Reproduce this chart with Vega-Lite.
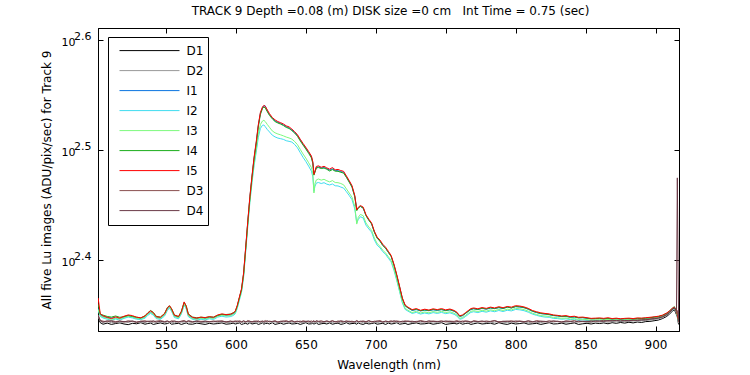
{
"$schema": "https://vega.github.io/schema/vega-lite/v6.json",
"width": 581, "height": 303,
"autosize": {"type": "none"},
"padding": {"left": 98, "top": 28, "right": 71, "bottom": 44},
"background": "white",
"config": {
  "view": {"stroke": "black", "strokeWidth": 1},
  "font": "DejaVu Sans",
  "axis": {"grid": false, "domainColor": "black", "tickColor": "black", "labelColor": "black", "titleColor": "black", "titleFontWeight": "normal", "titleFontSize": 12, "labelFontSize": 12, "labelFont": "DejaVu Sans", "titleFont": "DejaVu Sans", "tickSize": -5, "labelFlush": false, "labelOverlap": false}
},
"title": {"text": "TRACK 9 Depth =0.08 (m) DISK size =0 cm\u00a0\u00a0\u00a0Int Time = 0.75 (sec)", "fontSize": 12, "fontWeight": "normal", "font": "DejaVu Sans", "color": "black", "offset": 10, "dx": 2},
"data": {"values": [
{"w":501.5,"D1":222.5,"D2":223.0,"I1":227.0,"I2":226.0,"I3":226.5,"I4":229.0,"I5":232.0,"D3":224.0,"D4":223.5},
{"w":503,"D1":220.3,"D2":221.0,"I1":224.0,"I2":223.2,"I3":223.6,"I4":224.3,"I5":224.5,"D3":221.4,"D4":221.2},
{"w":505,"D1":219.6,"D2":220.4,"I1":223.1,"I2":222.5,"I3":222.9,"I4":223.8,"I5":223.5,"D3":221.0,"D4":220.6},
{"w":508,"D1":220.1,"D2":220.8,"I1":222.6,"I2":221.9,"I3":222.3,"I4":223.2,"I5":222.8,"D3":220.7,"D4":221.2},
{"w":511,"D1":219.5,"D2":220.3,"I1":222.5,"I2":221.4,"I3":221.8,"I4":222.9,"I5":222.2,"D3":221.3,"D4":220.9},
{"w":514,"D1":219.9,"D2":220.6,"I1":222.5,"I2":222.0,"I3":222.4,"I4":223.4,"I5":223.0,"D3":220.8,"D4":220.5},
{"w":517,"D1":220.2,"D2":220.2,"I1":222.1,"I2":221.5,"I3":222.0,"I4":222.8,"I5":222.4,"D3":221.1,"D4":221.0},
{"w":520,"D1":219.7,"D2":220.7,"I1":222.8,"I2":222.3,"I3":222.7,"I4":223.1,"I5":223.3,"D3":220.6,"D4":220.8},
{"w":523,"D1":219.4,"D2":220.5,"I1":223.4,"I2":222.9,"I3":223.3,"I4":223.7,"I5":223.9,"D3":221.2,"D4":220.7},
{"w":526,"D1":220.0,"D2":220.9,"I1":223.0,"I2":222.5,"I3":223.0,"I4":223.2,"I5":223.6,"D3":220.9,"D4":221.1},
{"w":529,"D1":219.8,"D2":220.3,"I1":222.4,"I2":221.9,"I3":222.3,"I4":222.9,"I5":222.8,"D3":220.5,"D4":220.6},
{"w":532,"D1":220.3,"D2":220.6,"I1":222.2,"I2":221.7,"I3":222.0,"I4":222.5,"I5":222.6,"D3":221.0,"D4":220.9},
{"w":535,"D1":219.6,"D2":220.4,"I1":223.0,"I2":222.4,"I3":222.9,"I4":223.5,"I5":223.4,"D3":221.2,"D4":220.7},
{"w":537,"D1":219.9,"D2":220.8,"I1":224.3,"I2":223.7,"I3":224.2,"I4":224.9,"I5":224.8,"D3":220.8,"D4":221.0},
{"w":539,"D1":220.1,"D2":220.2,"I1":225.2,"I2":224.6,"I3":225.1,"I4":226.0,"I5":225.8,"D3":221.1,"D4":220.8},
{"w":541,"D1":219.5,"D2":220.6,"I1":224.4,"I2":223.8,"I3":224.3,"I4":225.1,"I5":224.9,"D3":220.7,"D4":221.2},
{"w":543,"D1":219.8,"D2":220.5,"I1":222.8,"I2":222.2,"I3":222.6,"I4":223.3,"I5":223.1,"D3":221.0,"D4":220.6},
{"w":546,"D1":220.2,"D2":220.9,"I1":222.4,"I2":221.8,"I3":222.3,"I4":222.9,"I5":222.8,"D3":221.3,"D4":220.9},
{"w":549,"D1":219.7,"D2":220.3,"I1":224.0,"I2":223.4,"I3":223.9,"I4":224.6,"I5":224.5,"D3":220.8,"D4":220.7},
{"w":551,"D1":219.9,"D2":220.7,"I1":226.7,"I2":226.0,"I3":226.6,"I4":227.4,"I5":227.2,"D3":221.1,"D4":221.0},
{"w":552.5,"D1":220.3,"D2":220.4,"I1":227.8,"I2":227.1,"I3":227.6,"I4":228.2,"I5":228.3,"D3":220.6,"D4":220.8},
{"w":554,"D1":219.6,"D2":220.6,"I1":226.3,"I2":225.6,"I3":226.1,"I4":226.9,"I5":226.8,"D3":221.2,"D4":220.7},
{"w":556,"D1":219.8,"D2":220.2,"I1":223.3,"I2":222.7,"I3":223.2,"I4":223.9,"I5":223.8,"D3":220.9,"D4":221.1},
{"w":559,"D1":220.0,"D2":220.8,"I1":222.8,"I2":222.1,"I3":222.6,"I4":223.1,"I5":223.2,"D3":220.7,"D4":220.6},
{"w":561,"D1":219.5,"D2":220.5,"I1":225.0,"I2":224.3,"I3":224.8,"I4":225.6,"I5":225.5,"D3":221.0,"D4":220.9},
{"w":563,"D1":219.9,"D2":220.6,"I1":229.5,"I2":228.6,"I3":229.2,"I4":229.9,"I5":230.1,"D3":221.3,"D4":221.0},
{"w":564.5,"D1":220.2,"D2":220.3,"I1":227.5,"I2":226.7,"I3":227.2,"I4":228.2,"I5":228.0,"D3":220.8,"D4":220.7},
{"w":566,"D1":219.7,"D2":220.7,"I1":223.8,"I2":223.1,"I3":223.5,"I4":224.4,"I5":224.2,"D3":221.0,"D4":221.2},
{"w":569,"D1":219.6,"D2":220.4,"I1":222.4,"I2":221.8,"I3":222.2,"I4":222.9,"I5":222.8,"D3":220.6,"D4":220.8},
{"w":572,"D1":220.1,"D2":220.8,"I1":222.1,"I2":221.5,"I3":221.9,"I4":222.6,"I5":222.4,"D3":221.2,"D4":220.9},
{"w":575,"D1":219.8,"D2":220.5,"I1":222.5,"I2":221.9,"I3":222.4,"I4":222.8,"I5":222.9,"D3":220.9,"D4":220.6},
{"w":578,"D1":219.5,"D2":220.3,"I1":222.2,"I2":221.6,"I3":222.0,"I4":222.7,"I5":222.6,"D3":221.0,"D4":221.0},
{"w":581,"D1":220.0,"D2":220.6,"I1":222.7,"I2":222.1,"I3":222.5,"I4":223.0,"I5":223.1,"D3":220.7,"D4":220.8},
{"w":584,"D1":219.7,"D2":220.9,"I1":222.5,"I2":221.8,"I3":222.3,"I4":222.9,"I5":222.8,"D3":221.1,"D4":220.7},
{"w":587,"D1":219.9,"D2":220.4,"I1":223.5,"I2":222.9,"I3":223.3,"I4":223.7,"I5":223.9,"D3":220.8,"D4":221.1},
{"w":590,"D1":220.2,"D2":220.7,"I1":224.0,"I2":223.3,"I3":223.8,"I4":224.2,"I5":224.4,"D3":221.2,"D4":220.9},
{"w":593,"D1":219.6,"D2":220.5,"I1":223.6,"I2":222.9,"I3":223.4,"I4":224.1,"I5":224.0,"D3":220.6,"D4":220.7},
{"w":596,"D1":219.8,"D2":220.3,"I1":223.8,"I2":223.1,"I3":223.6,"I4":224.3,"I5":224.2,"D3":221.0,"D4":221.0},
{"w":598,"D1":220.1,"D2":220.8,"I1":224.4,"I2":223.6,"I3":224.1,"I4":224.9,"I5":224.8,"D3":220.9,"D4":220.6},
{"w":599.5,"D1":219.7,"D2":220.6,"I1":225.2,"I2":224.4,"I3":224.9,"I4":225.5,"I5":225.6,"D3":221.1,"D4":220.9},
{"w":601,"D1":219.9,"D2":220.4,"I1":228.0,"I2":227.0,"I3":227.6,"I4":228.2,"I5":228.5,"D3":220.7,"D4":221.1},
{"w":602.5,"D1":220.2,"D2":220.8,"I1":232.0,"I2":230.9,"I3":231.5,"I4":232.1,"I5":232.5,"D3":221.2,"D4":220.8},
{"w":604,"D1":219.5,"D2":220.5,"I1":236.1,"I2":234.7,"I3":235.3,"I4":236.0,"I5":236.5,"D3":220.8,"D4":220.6},
{"w":605.5,"D1":219.8,"D2":220.2,"I1":244.0,"I2":242.3,"I3":243.0,"I4":243.8,"I5":244.5,"D3":221.0,"D4":221.2},
{"w":607,"D1":220.0,"D2":220.7,"I1":257.5,"I2":255.5,"I3":256.3,"I4":257.2,"I5":258.0,"D3":220.6,"D4":220.7},
{"w":608.5,"D1":219.6,"D2":220.6,"I1":272.0,"I2":269.5,"I3":270.4,"I4":271.6,"I5":272.5,"D3":221.3,"D4":220.9},
{"w":610,"D1":220.3,"D2":220.3,"I1":286.4,"I2":283.5,"I3":284.6,"I4":286.0,"I5":287.0,"D3":220.9,"D4":221.0},
{"w":611.5,"D1":219.7,"D2":220.9,"I1":298.9,"I2":295.3,"I3":296.6,"I4":298.4,"I5":299.5,"D3":220.7,"D4":220.6},
{"w":613,"D1":219.9,"D2":220.5,"I1":310.8,"I2":305.9,"I3":307.6,"I4":310.3,"I5":311.5,"D3":221.1,"D4":220.8},
{"w":614.5,"D1":220.1,"D2":220.2,"I1":320.8,"I2":314.7,"I3":316.6,"I4":320.2,"I5":321.5,"D3":220.8,"D4":221.1},
{"w":616,"D1":219.5,"D2":220.7,"I1":332.6,"I2":324.5,"I3":326.8,"I4":331.8,"I5":333.3,"D3":221.2,"D4":220.7},
{"w":617.5,"D1":219.8,"D2":220.4,"I1":341.4,"I2":330.8,"I3":333.5,"I4":340.6,"I5":342.0,"D3":220.6,"D4":220.9},
{"w":619,"D1":220.2,"D2":220.8,"I1":345.5,"I2":333.0,"I3":336.0,"I4":344.9,"I5":346.0,"D3":221.0,"D4":221.0},
{"w":620,"D1":219.6,"D2":220.5,"I1":346.8,"I2":333.2,"I3":336.5,"I4":346.0,"I5":347.2,"D3":220.9,"D4":220.6},
{"w":621,"D1":219.9,"D2":220.3,"I1":346.8,"I2":332.0,"I3":335.6,"I4":345.2,"I5":346.5,"D3":221.3,"D4":220.8},
{"w":622.5,"D1":220.0,"D2":220.6,"I1":343.0,"I2":330.0,"I3":333.5,"I4":342.5,"I5":343.8,"D3":220.7,"D4":221.2},
{"w":624,"D1":219.7,"D2":220.9,"I1":340.5,"I2":328.4,"I3":331.6,"I4":340.0,"I5":341.2,"D3":221.0,"D4":220.7},
{"w":626,"D1":220.3,"D2":220.4,"I1":338.0,"I2":326.2,"I3":329.1,"I4":337.5,"I5":338.5,"D3":220.8,"D4":220.9},
{"w":628,"D1":219.5,"D2":220.7,"I1":336.0,"I2":325.0,"I3":327.8,"I4":335.6,"I5":336.8,"D3":221.2,"D4":221.0},
{"w":630,"D1":219.8,"D2":220.2,"I1":335.0,"I2":324.2,"I3":327.0,"I4":334.6,"I5":335.6,"D3":220.6,"D4":220.6},
{"w":632,"D1":220.1,"D2":220.6,"I1":334.3,"I2":323.8,"I3":326.4,"I4":333.8,"I5":334.8,"D3":221.0,"D4":220.8},
{"w":634,"D1":219.6,"D2":220.5,"I1":333.2,"I2":323.3,"I3":325.7,"I4":332.8,"I5":333.9,"D3":220.9,"D4":221.1},
{"w":636,"D1":219.9,"D2":220.8,"I1":332.1,"I2":322.4,"I3":324.9,"I4":331.5,"I5":332.6,"D3":221.3,"D4":220.7},
{"w":638,"D1":220.2,"D2":220.3,"I1":331.1,"I2":322.0,"I3":324.3,"I4":330.8,"I5":331.9,"D3":220.7,"D4":220.9},
{"w":640,"D1":219.7,"D2":220.6,"I1":329.8,"I2":321.5,"I3":323.5,"I4":329.3,"I5":330.4,"D3":221.1,"D4":221.2},
{"w":642,"D1":219.8,"D2":220.4,"I1":328.0,"I2":319.9,"I3":321.9,"I4":327.6,"I5":328.6,"D3":220.8,"D4":220.6},
{"w":644,"D1":220.0,"D2":220.9,"I1":326.0,"I2":317.7,"I3":319.8,"I4":325.4,"I5":326.5,"D3":221.0,"D4":220.8},
{"w":646,"D1":219.5,"D2":220.5,"I1":323.0,"I2":314.5,"I3":316.6,"I4":322.3,"I5":323.4,"D3":220.6,"D4":221.0},
{"w":648,"D1":219.9,"D2":220.2,"I1":320.0,"I2":311.4,"I3":313.6,"I4":319.5,"I5":320.6,"D3":221.2,"D4":220.7},
{"w":650,"D1":220.3,"D2":220.7,"I1":317.4,"I2":308.7,"I3":310.9,"I4":316.8,"I5":318.0,"D3":220.9,"D4":220.9},
{"w":652,"D1":219.7,"D2":220.6,"I1":314.6,"I2":305.7,"I3":307.9,"I4":314.0,"I5":315.2,"D3":220.7,"D4":221.1},
{"w":654,"D1":219.8,"D2":220.3,"I1":311.8,"I2":302.5,"I3":304.8,"I4":311.0,"I5":312.2,"D3":221.1,"D4":220.6},
{"w":655,"D1":220.1,"D2":220.8,"I1":307.9,"I2":298.9,"I3":301.2,"I4":307.3,"I5":308.5,"D3":220.8,"D4":220.8},
{"w":655.8,"D1":219.6,"D2":220.4,"I1":300.5,"I2":290.0,"I3":289.0,"I4":300.0,"I5":300.5,"D3":221.3,"D4":221.0},
{"w":656.5,"D1":219.9,"D2":220.5,"I1":302.0,"I2":293.0,"I3":294.8,"I4":301.8,"I5":302.5,"D3":220.6,"D4":220.7},
{"w":657.5,"D1":220.2,"D2":220.9,"I1":304.9,"I2":295.1,"I3":297.0,"I4":304.6,"I5":305.5,"D3":221.0,"D4":221.2},
{"w":659,"D1":219.5,"D2":220.2,"I1":305.2,"I2":295.4,"I3":297.6,"I4":304.8,"I5":305.9,"D3":220.9,"D4":220.9},
{"w":661,"D1":219.8,"D2":220.6,"I1":304.6,"I2":294.8,"I3":296.9,"I4":304.2,"I5":305.0,"D3":221.2,"D4":220.6},
{"w":663,"D1":220.0,"D2":220.4,"I1":304.8,"I2":295.3,"I3":297.4,"I4":304.5,"I5":305.6,"D3":220.7,"D4":220.8},
{"w":665,"D1":219.7,"D2":220.7,"I1":304.1,"I2":294.4,"I3":296.5,"I4":303.7,"I5":304.6,"D3":221.0,"D4":221.1},
{"w":667,"D1":220.2,"D2":220.5,"I1":303.2,"I2":293.9,"I3":295.8,"I4":302.6,"I5":303.8,"D3":220.8,"D4":220.7},
{"w":669,"D1":219.6,"D2":220.3,"I1":304.0,"I2":294.5,"I3":296.6,"I4":303.5,"I5":304.8,"D3":221.3,"D4":221.0},
{"w":671,"D1":219.9,"D2":220.8,"I1":302.9,"I2":293.4,"I3":295.4,"I4":302.5,"I5":303.4,"D3":220.6,"D4":220.8},
{"w":673,"D1":220.1,"D2":220.6,"I1":302.8,"I2":293.3,"I3":295.3,"I4":302.4,"I5":303.6,"D3":221.1,"D4":220.6},
{"w":675,"D1":219.5,"D2":220.2,"I1":302.2,"I2":292.6,"I3":294.8,"I4":301.8,"I5":302.9,"D3":220.9,"D4":221.2},
{"w":677,"D1":219.8,"D2":220.5,"I1":301.8,"I2":292.0,"I3":294.0,"I4":301.3,"I5":302.4,"D3":220.7,"D4":220.9},
{"w":679,"D1":220.3,"D2":220.9,"I1":299.0,"I2":289.8,"I3":291.5,"I4":298.6,"I5":299.5,"D3":221.2,"D4":220.7},
{"w":681,"D1":219.7,"D2":220.4,"I1":296.1,"I2":287.5,"I3":289.0,"I4":295.6,"I5":296.6,"D3":220.8,"D4":221.0},
{"w":683,"D1":219.9,"D2":220.7,"I1":293.0,"I2":285.0,"I3":286.5,"I4":292.5,"I5":293.5,"D3":221.0,"D4":220.6},
{"w":685,"D1":220.0,"D2":220.3,"I1":287.0,"I2":279.5,"I3":281.0,"I4":286.6,"I5":287.5,"D3":220.6,"D4":220.8},
{"w":686.4,"D1":219.6,"D2":220.6,"I1":279.3,"I2":271.5,"I3":270.8,"I4":278.5,"I5":279.0,"D3":221.3,"D4":221.1},
{"w":687.5,"D1":220.2,"D2":220.5,"I1":280.2,"I2":273.4,"I3":274.7,"I4":280.0,"I5":280.5,"D3":220.9,"D4":220.7},
{"w":689,"D1":219.8,"D2":220.8,"I1":281.0,"I2":275.0,"I3":276.3,"I4":281.0,"I5":281.5,"D3":220.7,"D4":221.0},
{"w":691,"D1":219.5,"D2":220.2,"I1":280.0,"I2":274.3,"I3":275.6,"I4":280.1,"I5":280.6,"D3":221.1,"D4":220.9},
{"w":693,"D1":220.1,"D2":220.6,"I1":275.8,"I2":270.2,"I3":271.4,"I4":275.6,"I5":276.2,"D3":220.8,"D4":220.6},
{"w":695,"D1":219.7,"D2":220.4,"I1":273.2,"I2":268.1,"I3":269.2,"I4":273.0,"I5":273.6,"D3":221.2,"D4":221.2},
{"w":697,"D1":219.9,"D2":220.9,"I1":271.0,"I2":266.3,"I3":267.3,"I4":270.9,"I5":271.5,"D3":220.6,"D4":220.8},
{"w":699,"D1":220.2,"D2":220.5,"I1":266.4,"I2":262.0,"I3":263.0,"I4":266.2,"I5":266.8,"D3":221.0,"D4":220.7},
{"w":701,"D1":219.6,"D2":220.3,"I1":263.0,"I2":259.1,"I3":260.0,"I4":262.9,"I5":263.5,"D3":220.9,"D4":221.1},
{"w":703,"D1":219.8,"D2":220.7,"I1":261.3,"I2":257.7,"I3":258.5,"I4":261.3,"I5":261.9,"D3":221.3,"D4":220.9},
{"w":705,"D1":220.0,"D2":220.4,"I1":259.1,"I2":255.6,"I3":256.4,"I4":258.9,"I5":259.6,"D3":220.7,"D4":220.6},
{"w":707,"D1":219.5,"D2":220.6,"I1":257.5,"I2":254.2,"I3":254.9,"I4":257.4,"I5":258.0,"D3":221.0,"D4":221.0},
{"w":709,"D1":220.1,"D2":220.2,"I1":255.2,"I2":252.1,"I3":252.9,"I4":255.3,"I5":255.8,"D3":220.8,"D4":220.8},
{"w":711,"D1":219.7,"D2":220.8,"I1":253.1,"I2":250.2,"I3":250.9,"I4":253.0,"I5":253.6,"D3":221.2,"D4":220.7},
{"w":713,"D1":219.9,"D2":220.5,"I1":248.6,"I2":245.8,"I3":246.5,"I4":248.5,"I5":249.0,"D3":220.6,"D4":221.2},
{"w":715,"D1":220.3,"D2":220.3,"I1":243.2,"I2":240.6,"I3":241.3,"I4":243.1,"I5":243.6,"D3":221.1,"D4":220.9},
{"w":717,"D1":219.6,"D2":220.7,"I1":237.5,"I2":235.1,"I3":235.7,"I4":237.3,"I5":237.8,"D3":220.9,"D4":220.6},
{"w":719,"D1":219.8,"D2":220.6,"I1":231.7,"I2":229.6,"I3":230.2,"I4":231.6,"I5":232.0,"D3":220.7,"D4":221.0},
{"w":721,"D1":220.0,"D2":220.4,"I1":228.2,"I2":226.5,"I3":227.0,"I4":228.3,"I5":228.6,"D3":221.2,"D4":220.8},
{"w":723,"D1":219.5,"D2":220.9,"I1":227.2,"I2":225.7,"I3":226.1,"I4":227.3,"I5":227.6,"D3":220.8,"D4":221.1},
{"w":726,"D1":219.9,"D2":220.3,"I1":226.0,"I2":224.6,"I3":225.0,"I4":226.2,"I5":226.4,"D3":221.0,"D4":220.7},
{"w":729,"D1":220.2,"D2":220.6,"I1":226.4,"I2":225.1,"I3":225.6,"I4":226.6,"I5":226.9,"D3":220.6,"D4":220.9},
{"w":732,"D1":219.7,"D2":220.5,"I1":225.8,"I2":224.3,"I3":224.8,"I4":225.9,"I5":226.1,"D3":221.3,"D4":221.0},
{"w":735,"D1":219.8,"D2":220.8,"I1":226.1,"I2":224.8,"I3":225.3,"I4":226.3,"I5":226.6,"D3":220.9,"D4":220.6},
{"w":738,"D1":220.1,"D2":220.2,"I1":225.9,"I2":224.4,"I3":224.9,"I4":226.0,"I5":226.2,"D3":220.7,"D4":221.2},
{"w":741,"D1":219.6,"D2":220.7,"I1":226.3,"I2":225.0,"I3":225.5,"I4":226.5,"I5":226.8,"D3":221.1,"D4":220.8},
{"w":744,"D1":219.9,"D2":220.4,"I1":226.0,"I2":224.6,"I3":225.1,"I4":226.2,"I5":226.4,"D3":220.8,"D4":220.9},
{"w":747,"D1":220.3,"D2":220.6,"I1":226.4,"I2":225.1,"I3":225.6,"I4":226.5,"I5":226.9,"D3":221.2,"D4":220.7},
{"w":750,"D1":219.5,"D2":220.9,"I1":225.9,"I2":224.5,"I3":225.0,"I4":226.0,"I5":226.3,"D3":220.6,"D4":221.1},
{"w":753,"D1":219.8,"D2":220.3,"I1":226.3,"I2":224.9,"I3":225.4,"I4":226.4,"I5":226.7,"D3":221.0,"D4":220.9},
{"w":756,"D1":220.0,"D2":220.5,"I1":225.6,"I2":224.2,"I3":224.7,"I4":225.8,"I5":226.0,"D3":220.9,"D4":220.6},
{"w":758,"D1":219.7,"D2":220.7,"I1":224.8,"I2":223.4,"I3":223.9,"I4":224.9,"I5":225.2,"D3":221.3,"D4":220.8},
{"w":760,"D1":220.2,"D2":220.4,"I1":223.2,"I2":221.9,"I3":222.3,"I4":223.3,"I5":223.5,"D3":220.7,"D4":221.0},
{"w":762,"D1":219.6,"D2":220.2,"I1":223.5,"I2":222.2,"I3":222.7,"I4":223.7,"I5":223.9,"D3":221.1,"D4":220.7},
{"w":764,"D1":219.9,"D2":220.8,"I1":224.5,"I2":223.1,"I3":223.6,"I4":224.6,"I5":224.9,"D3":220.8,"D4":221.2},
{"w":766,"D1":220.1,"D2":220.6,"I1":225.5,"I2":224.1,"I3":224.6,"I4":225.6,"I5":225.9,"D3":221.0,"D4":220.9},
{"w":768,"D1":219.5,"D2":220.3,"I1":226.4,"I2":225.1,"I3":225.6,"I4":226.6,"I5":226.9,"D3":220.6,"D4":220.6},
{"w":770,"D1":219.8,"D2":220.7,"I1":226.8,"I2":225.4,"I3":225.9,"I4":226.9,"I5":227.2,"D3":221.2,"D4":221.0},
{"w":773,"D1":220.2,"D2":220.5,"I1":226.4,"I2":225.0,"I3":225.5,"I4":226.5,"I5":226.8,"D3":220.9,"D4":220.8},
{"w":776,"D1":219.7,"D2":220.9,"I1":227.0,"I2":225.6,"I3":226.1,"I4":227.1,"I5":227.4,"D3":220.7,"D4":221.1},
{"w":779,"D1":219.9,"D2":220.4,"I1":226.6,"I2":225.2,"I3":225.7,"I4":226.7,"I5":227.0,"D3":221.1,"D4":220.7},
{"w":782,"D1":220.0,"D2":220.2,"I1":227.1,"I2":225.8,"I3":226.3,"I4":227.3,"I5":227.6,"D3":220.8,"D4":220.9},
{"w":785,"D1":219.6,"D2":220.6,"I1":226.9,"I2":225.4,"I3":225.9,"I4":226.9,"I5":227.2,"D3":221.3,"D4":221.2},
{"w":788,"D1":220.3,"D2":220.8,"I1":227.3,"I2":226.0,"I3":226.5,"I4":227.5,"I5":227.8,"D3":220.6,"D4":220.6},
{"w":791,"D1":219.8,"D2":220.5,"I1":226.9,"I2":225.5,"I3":226.0,"I4":227.0,"I5":227.3,"D3":221.0,"D4":220.8},
{"w":794,"D1":219.5,"D2":220.3,"I1":227.6,"I2":226.1,"I3":226.6,"I4":227.6,"I5":227.9,"D3":220.9,"D4":221.0},
{"w":797,"D1":220.1,"D2":220.7,"I1":227.2,"I2":225.8,"I3":226.3,"I4":227.2,"I5":227.6,"D3":221.2,"D4":220.7},
{"w":800,"D1":219.7,"D2":220.4,"I1":227.8,"I2":226.5,"I3":227.0,"I4":227.9,"I5":228.3,"D3":220.7,"D4":221.1},
{"w":803,"D1":219.9,"D2":220.9,"I1":227.6,"I2":226.3,"I3":226.8,"I4":227.8,"I5":228.1,"D3":221.1,"D4":220.9},
{"w":806,"D1":220.2,"D2":220.6,"I1":227.3,"I2":225.9,"I3":226.4,"I4":227.4,"I5":227.7,"D3":220.8,"D4":220.6},
{"w":809,"D1":219.6,"D2":220.2,"I1":226.6,"I2":225.2,"I3":225.7,"I4":226.7,"I5":227.0,"D3":221.0,"D4":221.2},
{"w":812,"D1":219.8,"D2":220.7,"I1":225.6,"I2":224.3,"I3":224.7,"I4":225.7,"I5":226.0,"D3":220.6,"D4":220.8},
{"w":815,"D1":220.0,"D2":220.5,"I1":225.0,"I2":223.7,"I3":224.1,"I4":225.1,"I5":225.4,"D3":221.3,"D4":220.7},
{"w":818,"D1":219.5,"D2":220.3,"I1":224.5,"I2":223.2,"I3":223.6,"I4":224.6,"I5":224.9,"D3":220.9,"D4":221.0},
{"w":821,"D1":219.9,"D2":220.8,"I1":224.3,"I2":222.9,"I3":223.4,"I4":224.4,"I5":224.6,"D3":220.7,"D4":220.9},
{"w":824,"D1":220.3,"D2":220.4,"I1":224.0,"I2":222.8,"I3":223.2,"I4":224.1,"I5":224.4,"D3":221.2,"D4":220.6},
{"w":827,"D1":219.7,"D2":220.6,"I1":223.6,"I2":222.3,"I3":222.7,"I4":223.7,"I5":223.9,"D3":220.8,"D4":221.2},
{"w":830,"D1":219.8,"D2":220.9,"I1":223.4,"I2":222.2,"I3":222.6,"I4":223.5,"I5":223.7,"D3":221.0,"D4":220.8},
{"w":833,"D1":220.1,"D2":220.3,"I1":223.1,"I2":221.9,"I3":222.3,"I4":223.2,"I5":223.4,"D3":220.6,"D4":220.7},
{"w":836,"D1":219.6,"D2":220.5,"I1":223.2,"I2":222.1,"I3":222.5,"I4":223.3,"I5":223.6,"D3":221.1,"D4":221.0},
{"w":839,"D1":219.9,"D2":220.7,"I1":222.8,"I2":221.7,"I3":222.0,"I4":222.9,"I5":223.1,"D3":220.9,"D4":220.9},
{"w":842,"D1":220.2,"D2":220.4,"I1":222.9,"I2":221.9,"I3":222.2,"I4":223.0,"I5":223.3,"D3":221.3,"D4":220.6},
{"w":845,"D1":219.5,"D2":220.6,"I1":222.5,"I2":221.4,"I3":221.8,"I4":222.6,"I5":222.8,"D3":220.7,"D4":221.1},
{"w":848,"D1":219.8,"D2":220.8,"I1":222.6,"I2":221.6,"I3":221.9,"I4":222.7,"I5":222.9,"D3":221.0,"D4":220.8},
{"w":851,"D1":220.0,"D2":220.3,"I1":222.3,"I2":221.4,"I3":221.7,"I4":222.4,"I5":222.6,"D3":220.8,"D4":221.0},
{"w":854,"D1":219.7,"D2":220.5,"I1":222.1,"I2":221.2,"I3":221.5,"I4":222.1,"I5":222.3,"D3":221.2,"D4":220.7},
{"w":857,"D1":220.1,"D2":220.7,"I1":222.1,"I2":221.3,"I3":221.6,"I4":222.2,"I5":222.4,"D3":220.9,"D4":221.2},
{"w":860,"D1":219.9,"D2":220.6,"I1":222.2,"I2":221.4,"I3":221.7,"I4":222.3,"I5":222.5,"D3":221.1,"D4":221.0},
{"w":863,"D1":220.2,"D2":220.9,"I1":222.0,"I2":221.3,"I3":221.6,"I4":222.1,"I5":222.3,"D3":221.4,"D4":220.9},
{"w":866,"D1":219.8,"D2":220.5,"I1":222.2,"I2":221.5,"I3":221.8,"I4":222.3,"I5":222.6,"D3":221.0,"D4":221.3},
{"w":869,"D1":220.3,"D2":220.8,"I1":221.9,"I2":221.2,"I3":221.5,"I4":222.0,"I5":222.2,"D3":221.3,"D4":221.1},
{"w":872,"D1":220.0,"D2":220.7,"I1":222.1,"I2":221.4,"I3":221.7,"I4":222.2,"I5":222.4,"D3":221.2,"D4":221.4},
{"w":875,"D1":220.4,"D2":220.9,"I1":221.9,"I2":221.2,"I3":221.5,"I4":222.0,"I5":222.1,"D3":221.5,"D4":221.0},
{"w":878,"D1":220.1,"D2":221.0,"I1":222.0,"I2":221.3,"I3":221.6,"I4":222.1,"I5":222.3,"D3":221.1,"D4":221.3},
{"w":881,"D1":220.5,"D2":220.8,"I1":222.1,"I2":221.5,"I3":221.7,"I4":222.2,"I5":222.4,"D3":221.4,"D4":221.2},
{"w":884,"D1":220.2,"D2":221.1,"I1":222.0,"I2":221.4,"I3":221.6,"I4":222.0,"I5":222.2,"D3":221.3,"D4":221.5},
{"w":887,"D1":220.6,"D2":221.0,"I1":222.2,"I2":221.6,"I3":221.9,"I4":222.3,"I5":222.5,"D3":221.6,"D4":221.3},
{"w":890,"D1":220.4,"D2":221.2,"I1":222.2,"I2":221.6,"I3":221.8,"I4":222.3,"I5":222.4,"D3":221.5,"D4":221.6},
{"w":893,"D1":220.8,"D2":221.3,"I1":222.3,"I2":221.8,"I3":222.0,"I4":222.4,"I5":222.6,"D3":221.8,"D4":221.6},
{"w":896,"D1":220.9,"D2":221.5,"I1":222.5,"I2":222.0,"I3":222.2,"I4":222.6,"I5":222.8,"D3":222.0,"D4":221.9},
{"w":899,"D1":221.2,"D2":221.8,"I1":222.8,"I2":222.3,"I3":222.5,"I4":222.9,"I5":223.0,"D3":222.3,"D4":222.1},
{"w":902,"D1":221.5,"D2":222.0,"I1":223.0,"I2":222.6,"I3":222.8,"I4":223.1,"I5":223.3,"D3":222.5,"D4":222.4},
{"w":905,"D1":222.2,"D2":222.7,"I1":223.6,"I2":223.2,"I3":223.4,"I4":223.7,"I5":223.8,"D3":223.1,"D4":223.0},
{"w":908,"D1":223.2,"D2":223.7,"I1":224.6,"I2":224.1,"I3":224.3,"I4":224.7,"I5":224.8,"D3":224.1,"D4":224.0},
{"w":910,"D1":224.3,"D2":224.8,"I1":225.5,"I2":225.1,"I3":225.3,"I4":225.7,"I5":225.8,"D3":225.2,"D4":225.0},
{"w":912,"D1":225.6,"D2":226.2,"I1":226.8,"I2":226.3,"I3":226.5,"I4":227.1,"I5":227.0,"D3":226.6,"D4":226.4},
{"w":913.5,"D1":226.4,"D2":227.0,"I1":227.4,"I2":227.0,"I3":227.2,"I4":227.8,"I5":227.6,"D3":227.4,"D4":227.3},
{"w":915,"D1":224.0,"D2":224.5,"I1":225.3,"I2":225.0,"I3":225.2,"I4":225.6,"I5":225.5,"D3":225.0,"D4":226.0},
{"w":915.6,"D1":223.0,"D2":223.5,"I1":223.8,"I2":223.5,"I3":223.7,"I4":224.0,"I5":224.0,"D3":226.0,"D4":298.3},
{"w":916.5,"D1":219.5,"D2":220.0,"I1":220.8,"I2":220.6,"I3":220.7,"I4":221.0,"I5":221.0,"D3":220.5,"D4":221.0}
]},
"layer": [
 {"transform": [{"fold": ["D1","D2","I1","I2","I3","I4","I5","D3","D4"], "as": ["series","value"]}],
  "mark": {"type": "line", "strokeWidth": 1, "clip": true},
  "encoding": {
   "x": {"field": "w", "type": "quantitative",
         "scale": {"domain": [501.4, 916.8], "nice": false, "zero": false},
         "axis": {"title": "Wavelength (nm)", "values": [550,600,650,700,750,800,850,900], "labelPadding": 13, "titlePadding": 9}},
   "y": {"field": "value", "type": "quantitative",
         "scale": {"type": "log", "domain": [216.5, 408.2], "nice": false},
         "axis": {"title": "All five Lu images (ADU/pix/sec) for Track 9", "values": [251.18864, 316.22777, 398.10717],
                  "labelExpr": "'10'",
                  "labelFontSize": 11, "labelAlign": "right", "labelBaseline": "middle", "labelPadding": 28, "labelOffset": 3, "titlePadding": 8}},
   "color": {"field": "series", "type": "nominal",
             "scale": {"domain": ["D1","D2","I1","I2","I3","I4","I5","D3","D4"],
                       "range": ["#000000","#999999","#0a74e0","#3fdcf0","#7dfa7d","#1aad1a","#ff0000","#8a5050","#6b3a47"]},
             "legend": {"orient": "none", "legendX": 10, "legendY": 9, "title": null, "symbolType": "stroke", "symbolSize": 3600, "symbolStrokeWidth": 1, "clipHeight": 19.2, "rowPadding": 0, "padding": 4, "strokeColor": "black", "fillColor": "white", "labelFont": "DejaVu Sans", "labelFontSize": 12, "labelColor": "black", "labelOffset": 6.5, "symbolOffset": 7, "labelExpr": "datum.label + '\u00a0'"}}
  }},
 {"transform": [{"fold": ["D1","D2","I1","I2","I3","I4","I5","D3","D4"], "as": ["series","value"]}],
  "mark": {"type": "point", "opacity": 0},
  "encoding": {
   "x": {"field": "w", "type": "quantitative", "scale": {"domain": [501.4, 916.8], "nice": false, "zero": false},
         "axis": {"orient": "top", "labels": false, "title": null, "values": [550,600,650,700,750,800,850,900]}},
   "y": {"field": "value", "type": "quantitative", "scale": {"type": "log", "domain": [216.5, 408.2], "nice": false},
         "axis": {"orient": "right", "labels": false, "title": null, "values": [251.18864, 316.22777, 398.10717]}}
  }},
 {"data": {"values": [{"e": "2.4", "v": 251.18864}, {"e": "2.5", "v": 316.22777}, {"e": "2.6", "v": 398.10717}]},
  "mark": {"type": "text", "align": "right", "baseline": "middle", "dx": -6.5, "dy": -3, "fontSize": 11, "font": "DejaVu Sans", "color": "black", "clip": false},
  "encoding": {
   "x": {"datum": 501.4, "type": "quantitative", "axis": null},
   "y": {"field": "v", "type": "quantitative", "axis": null},
   "text": {"field": "e", "type": "nominal"}
  }}
],
"resolve": {"axis": {"x": "independent", "y": "independent"}}
}
